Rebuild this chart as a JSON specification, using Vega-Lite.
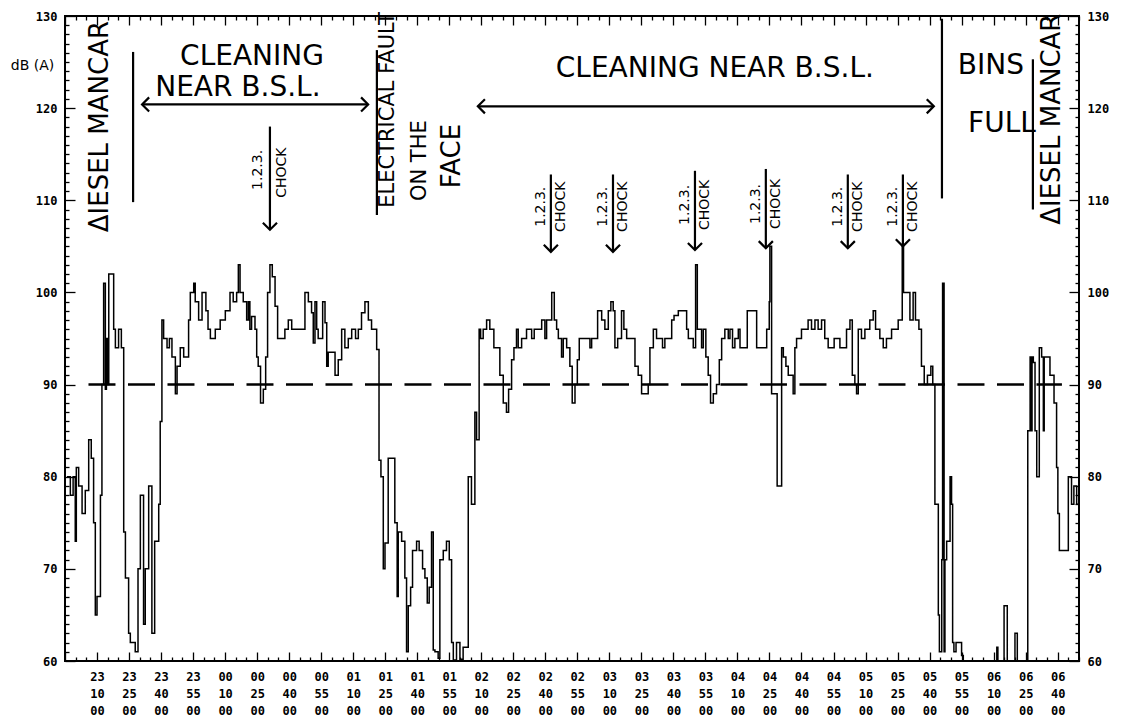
{
  "$schema": "https://vega.github.io/schema/vega-lite/v6.json",
  "width": 1014,
  "height": 645,
  "autosize": {"type": "none"},
  "padding": {"left": 65, "top": 16, "right": 52, "bottom": 61},
  "background": "white",
  "config": {
    "view": {"stroke": "black", "strokeWidth": 2},
    "axis": {"domain": false, "grid": false, "ticks": true, "tickColor": "black", "tickWidth": 1.3, "labelColor": "black", "labelFont": "DejaVu Sans Mono", "labelFontWeight": "bold", "labelFontSize": 12, "titleColor": "black"}
  },
  "datasets": {
    "series": [
      {"t":0.9,"db":80},{"t":2.5,"db":78},{"t":3.8,"db":80},{"t":4.8,"db":73},{"t":5.3,"db":81},{"t":6.4,"db":79},{"t":8.0,"db":76},{"t":9.5,"db":78.5},{"t":11.1,"db":84},{"t":12.3,"db":82},{"t":13.4,"db":75},{"t":14.2,"db":65},{"t":15.0,"db":67},{"t":16.6,"db":78},{"t":17.3,"db":90},{"t":18.1,"db":101},{"t":18.9,"db":89.5},{"t":19.4,"db":95},{"t":19.8,"db":90},{"t":20.5,"db":102},{"t":22.8,"db":96},{"t":23.6,"db":94},{"t":25.1,"db":96},{"t":26.4,"db":94},{"t":27.5,"db":74},{"t":28.3,"db":69},{"t":29.8,"db":63},{"t":30.6,"db":62},{"t":32.9,"db":61},{"t":34.2,"db":70},{"t":35.3,"db":78},{"t":36.8,"db":64},{"t":37.6,"db":70},{"t":39.2,"db":79},{"t":40.7,"db":63},{"t":42.0,"db":73},{"t":43.9,"db":77},{"t":44.6,"db":86},{"t":45.4,"db":97},{"t":46.2,"db":95},{"t":47.8,"db":94},{"t":48.9,"db":95},{"t":50.1,"db":93},{"t":51.7,"db":89},{"t":52.5,"db":92},{"t":54.0,"db":94},{"t":55.6,"db":93},{"t":57.9,"db":97},{"t":58.7,"db":100},{"t":60.3,"db":101},{"t":61.0,"db":99},{"t":62.6,"db":97},{"t":64.2,"db":100},{"t":66.0,"db":98},{"t":67.0,"db":96},{"t":68.1,"db":95},{"t":70.4,"db":96},{"t":72.7,"db":97},{"t":75.1,"db":98},
      {"t":77.3,"db":100},{"t":78.8,"db":99},{"t":80.4,"db":100},{"t":81.2,"db":103},{"t":82.0,"db":100},{"t":83.5,"db":99},{"t":85.1,"db":97},{"t":85.9,"db":99},{"t":86.6,"db":96},{"t":87.4,"db":97.4},{"t":89.0,"db":96},{"t":89.8,"db":93},{"t":90.5,"db":92},{"t":91.6,"db":88},{"t":92.9,"db":89.5},{"t":94.0,"db":93},{"t":94.9,"db":100},{"t":96.0,"db":103},{"t":97.1,"db":101.7},{"t":98.4,"db":98.5},{"t":99.6,"db":95},{"t":103.0,"db":96},{"t":104.6,"db":97},{"t":106.2,"db":96},{"t":112.4,"db":100},{"t":114.0,"db":99},{"t":115.5,"db":97.8},{"t":116.3,"db":94.5},{"t":117.1,"db":99},{"t":117.9,"db":96},{"t":118.6,"db":95},{"t":120.7,"db":99},{"t":121.8,"db":96.7},{"t":122.6,"db":92},{"t":123.3,"db":93.5},{"t":126.5,"db":91},{"t":128.0,"db":92.7},{"t":129.6,"db":96},{"t":131.1,"db":94},{"t":132.7,"db":95},{"t":134.3,"db":96},{"t":136.1,"db":95},{"t":137.4,"db":96},{"t":138.9,"db":97.8},{"t":140.5,"db":99},{"t":142.1,"db":97},{"t":143.6,"db":96},{"t":146.0,"db":93.8},{"t":147.1,"db":81.8},{"t":148.0,"db":80},{"t":149.1,"db":70},{"t":149.9,"db":72.8},{"t":151.4,"db":82},
      {"t":154.5,"db":75},{"t":155.6,"db":67},{"t":156.1,"db":74},{"t":157.7,"db":73},{"t":159.2,"db":69},{"t":160.0,"db":61},{"t":160.8,"db":66},{"t":161.9,"db":68},{"t":162.8,"db":72},{"t":164.7,"db":73},{"t":165.9,"db":72},{"t":167.5,"db":70},{"t":168.6,"db":69},{"t":169.7,"db":66.3},{"t":170.6,"db":68},{"t":171.7,"db":74},{"t":172.5,"db":61.2},{"t":173.3,"db":61},{"t":174.8,"db":60.3},{"t":175.6,"db":71},{"t":177.2,"db":72},{"t":178.7,"db":73},{"t":180.0,"db":71},{"t":181.1,"db":62},{"t":181.9,"db":60.1},{"t":183.4,"db":62},{"t":185.0,"db":60.2},{"t":186.5,"db":61.5},{"t":188.9,"db":80},{"t":190.4,"db":77},{"t":192.0,"db":87},{"t":192.8,"db":84},{"t":194.0,"db":96},{"t":194.7,"db":95},{"t":195.9,"db":96},{"t":197.5,"db":97},{"t":199.0,"db":96},{"t":200.9,"db":94},{"t":203.7,"db":91},{"t":205.3,"db":88},{"t":206.8,"db":87},{"t":207.8,"db":89.5},{"t":209.2,"db":92.7},{"t":210.3,"db":94},{"t":211.5,"db":96},{"t":212.3,"db":94},{"t":213.9,"db":95},{"t":216.2,"db":96},{"t":218.6,"db":95},{"t":219.8,"db":96},{"t":223.3,"db":97},{"t":224.8,"db":95},{"t":225.6,"db":97},{"t":228.0,"db":100},{"t":229.2,"db":97},{"t":230.3,"db":96},{"t":231.1,"db":95},{"t":232.6,"db":93},{"t":233.4,"db":95},{"t":235.0,"db":94},{"t":236.5,"db":92},{"t":237.6,"db":88},{"t":238.9,"db":90},{"t":240.0,"db":92.7},{"t":240.9,"db":95},{"t":245.9,"db":94},{"t":246.7,"db":95},{"t":249.5,"db":98},{"t":251.4,"db":97},{"t":252.9,"db":96},{"t":254.5,"db":98},{"t":255.7,"db":99},{"t":256.8,"db":98},{"t":257.6,"db":94},{"t":258.9,"db":95},{"t":260.7,"db":98},{"t":261.8,"db":96},{"t":263.1,"db":95},{"t":267.0,"db":92},{"t":268.5,"db":91},{"t":270.1,"db":89},{"t":273.2,"db":90},{"t":274.0,"db":94},{"t":275.6,"db":96},{"t":277.1,"db":95},{"t":279.9,"db":94},{"t":281.0,"db":95},{"t":284.2,"db":97},{"t":285.3,"db":97.5},{"t":287.3,"db":98},{"t":291.2,"db":96},{"t":292.0,"db":95},{"t":294.3,"db":94},{"t":295.4,"db":103},{"t":296.2,"db":96},{"t":298.2,"db":94},{"t":299.0,"db":96},{"t":300.2,"db":93},{"t":301.3,"db":91},{"t":302.4,"db":88},{"t":303.7,"db":89},{"t":305.2,"db":90},{"t":306.5,"db":92.7},{"t":307.6,"db":95},{"t":309.1,"db":96},{"t":310.7,"db":95},{"t":311.5,"db":96},{"t":312.7,"db":94},{"t":313.8,"db":95},{"t":315.4,"db":96},{"t":316.2,"db":94},{"t":319.6,"db":98},{"t":324.0,"db":94},{"t":328.7,"db":96},{"t":329.9,"db":99},{"t":330.2,"db":105},{"t":331.0,"db":89},{"t":333.6,"db":79},{"t":335.7,"db":94},{"t":336.5,"db":93},{"t":337.7,"db":92},{"t":338.8,"db":91},{"t":341.1,"db":89},{"t":341.9,"db":94},{"t":342.7,"db":95},{"t":345.0,"db":96},{"t":348.1,"db":97},{"t":349.7,"db":96},{"t":351.3,"db":97},{"t":352.8,"db":96},{"t":354.4,"db":97},{"t":355.9,"db":95},{"t":357.5,"db":94},{"t":360.3,"db":95},{"t":363.0,"db":94},{"t":366.1,"db":96},{"t":367.7,"db":97},{"t":368.8,"db":91},{"t":370.0,"db":90},{"t":370.8,"db":89},{"t":371.6,"db":96},{"t":373.1,"db":95},{"t":374.7,"db":96},{"t":377.0,"db":97},{"t":378.6,"db":98},{"t":379.7,"db":96},{"t":381.7,"db":95},{"t":383.3,"db":94},{"t":384.8,"db":95},{"t":387.2,"db":96},{"t":390.3,"db":97},{"t":392.2,"db":105},{"t":392.8,"db":100},{"t":395.8,"db":97},{"t":397.3,"db":100},{"t":398.4,"db":97},{"t":400.0,"db":96},{"t":401.2,"db":92},{"t":402.5,"db":90},{"t":404.0,"db":91},{"t":405.6,"db":92},{"t":406.5,"db":90},{"t":407.5,"db":77},{"t":409.1,"db":65},{"t":409.6,"db":61},{"t":410.7,"db":71},{"t":411.1,"db":101},{"t":411.8,"db":61},{"t":412.2,"db":71},{"t":413.0,"db":73},{"t":414.6,"db":80},{"t":415.3,"db":77},{"t":415.8,"db":62},{"t":416.4,"db":61},{"t":417.4,"db":62},{"t":420.0,"db":60.6},{"t":420.8,"db":60},{"t":436.5,"db":61.5},{"t":437.0,"db":60},{"t":439.9,"db":66},{"t":441.4,"db":60},{"t":445.0,"db":63},{"t":446.1,"db":60},{"t":451.0,"db":85},{"t":452.1,"db":93},{"t":452.5,"db":85},{"t":453.0,"db":93},{"t":453.6,"db":92.4},{"t":454.4,"db":85},{"t":455.2,"db":80},{"t":456.4,"db":94},{"t":457.5,"db":93},{"t":458.3,"db":85},{"t":458.7,"db":93},{"t":459.5,"db":93},{"t":461.4,"db":91},{"t":463.3,"db":88},{"t":464.5,"db":81},{"t":465.1,"db":76},{"t":465.8,"db":72},{"t":467.6,"db":72},{"t":470.0,"db":80},{"t":471.5,"db":77},{"t":472.6,"db":79},{"t":473.9,"db":77},{"t":475.0,"db":77}
    ],
    "limit": [{"t": 11, "t2": 467, "db": 90}],
    "notesH": [
      {"label": "CLEANING", "t": 87.6, "db": 125.6},
      {"label": "NEAR B.S.L.", "t": 81.0, "db": 122.2},
      {"label": "CLEANING NEAR B.S.L.", "t": 304.4, "db": 124.2},
      {"label": "BINS", "t": 433.7, "db": 124.6},
      {"label": "FULL", "t": 438.9, "db": 118.3}
    ],
    "notesV": [
      {"label": "ΔIESEL MANCAR", "t": 16.4, "db": 118.0},
      {"label": "FACE", "t": 181.3, "db": 114.8},
      {"label": "ΔIESEL MANCAR", "t": 462.3, "db": 118.8}
    ],
    "notesV2": [
      {"label": "ELECTRICAL FAULT", "t": 151.5, "db": 119.8},
      {"label": "ON THE", "t": 166.3, "db": 114.3}
    ],
    "chock": [
      {"label": "1.2.3.", "t": 90.4, "db": 113.3}, {"label": "CHOCK", "t": 101.6, "db": 113.0},
      {"label": "1.2.3.", "t": 222.9, "db": 109.3}, {"label": "CHOCK", "t": 232.3, "db": 109.3},
      {"label": "1.2.3.", "t": 252.0, "db": 109.3}, {"label": "CHOCK", "t": 261.4, "db": 109.3},
      {"label": "1.2.3.", "t": 290.4, "db": 109.5}, {"label": "CHOCK", "t": 299.8, "db": 109.5},
      {"label": "1.2.3.", "t": 323.6, "db": 109.6}, {"label": "CHOCK", "t": 333.0, "db": 109.6},
      {"label": "1.2.3.", "t": 362.0, "db": 109.3}, {"label": "CHOCK", "t": 371.4, "db": 109.3},
      {"label": "1.2.3.", "t": 387.8, "db": 109.3}, {"label": "CHOCK", "t": 397.2, "db": 109.3}
    ],
    "strokes": [
      {"t": 31.9, "t2": 31.9, "db": 126.1, "db2": 109.8},
      {"t": 146.1, "t2": 146.1, "db": 126.3, "db2": 108.4},
      {"t": 410.8, "t2": 410.8, "db": 129.7, "db2": 110.2},
      {"t": 453.4, "t2": 453.4, "db": 125.3, "db2": 109.0},
      {"t": 36.1, "t2": 142.0, "db": 120.4, "db2": 120.4},
      {"t": 193.4, "t2": 407.0, "db": 120.2, "db2": 120.2},
      {"t": 96.0, "t2": 96.0, "db": 118.0, "db2": 106.8},
      {"t": 227.6, "t2": 227.6, "db": 112.8, "db2": 104.4},
      {"t": 256.7, "t2": 256.7, "db": 112.8, "db2": 104.4},
      {"t": 295.1, "t2": 295.1, "db": 113.2, "db2": 104.6},
      {"t": 328.3, "t2": 328.3, "db": 113.4, "db2": 104.8},
      {"t": 366.7, "t2": 366.7, "db": 112.8, "db2": 104.8},
      {"t": 392.5, "t2": 392.5, "db": 112.8, "db2": 105.0}
    ],
    "heads": [
      {"t": 36.1, "db": 120.4, "dir": "left"},
      {"t": 142.0, "db": 120.4, "dir": "right"},
      {"t": 193.4, "db": 120.2, "dir": "left"},
      {"t": 407.0, "db": 120.2, "dir": "right"},
      {"t": 96.0, "db": 106.8, "dir": "down"},
      {"t": 227.6, "db": 104.4, "dir": "down"},
      {"t": 256.7, "db": 104.4, "dir": "down"},
      {"t": 295.1, "db": 104.6, "dir": "down"},
      {"t": 328.3, "db": 104.8, "dir": "down"},
      {"t": 366.7, "db": 104.8, "dir": "down"},
      {"t": 392.5, "db": 105.0, "dir": "down"}
    ]
  },
  "resolve": {"axis": {"x": "independent", "y": "independent"}},
  "layer": [
    {
      "data": {"name": "series"},
      "mark": {"type": "line", "interpolate": "step-after", "color": "black", "strokeWidth": 1.5, "clip": true},
      "encoding": {
        "x": {"field": "t", "type": "quantitative", "scale": {"domain": [0, 475], "nice": false, "zero": false},
          "axis": {"orient": "bottom", "title": null, "values": [0,5,10,15,20,25,30,35,40,45,50,55,60,65,70,75,80,85,90,95,100,105,110,115,120,125,130,135,140,145,150,155,160,165,170,175,180,185,190,195,200,205,210,215,220,225,230,235,240,245,250,255,260,265,270,275,280,285,290,295,300,305,310,315,320,325,330,335,340,345,350,355,360,365,370,375,380,385,390,395,400,405,410,415,420,425,430,435,440,445,450,455,460,465,470,475],
            "labelExpr": "datum.value % 15 === 0 && datum.value > 0 ? [pad(toString(floor((1375 + datum.value) / 60) % 24), 2, '0', 'left'), pad(toString((1375 + datum.value) % 60), 2, '0', 'left'), '00'] : ''",
            "labelOverlap": false, "labelFlush": false, "labelPadding": 19, "labelBaseline": "top", "labelLineHeight": 17,
            "tickSize": {"condition": {"test": "datum.value % 15 === 0", "value": -9}, "value": -4}}},
        "y": {"field": "db", "type": "quantitative", "scale": {"domain": [60, 130], "nice": false, "zero": false},
          "axis": {"orient": "left", "values": [60,61,62,63,64,65,66,67,68,69,70,71,72,73,74,75,76,77,78,79,80,81,82,83,84,85,86,87,88,89,90,91,92,93,94,95,96,97,98,99,100,101,102,103,104,105,106,107,108,109,110,111,112,113,114,115,116,117,118,119,120,121,122,123,124,125,126,127,128,129,130],
            "labelExpr": "datum.value % 10 === 0 ? datum.label : ''", "labelOverlap": false, "labelPadding": 18,
            "tickSize": {"condition": {"test": "datum.value % 10 === 0", "value": -10}, "value": -4},
            "title": "dB (A)", "titleAngle": 0, "titleX": -33, "titleY": 49, "titleAlign": "center", "titleBaseline": "middle",
            "titleFont": "DejaVu Sans", "titleFontSize": 14, "titleFontWeight": "normal"}}
      }
    },
    {
      "data": {"name": "limit"},
      "mark": {"type": "rule", "color": "black", "strokeWidth": 2.5, "strokeDash": [27, 12.5]},
      "encoding": {
        "x": {"field": "t", "type": "quantitative",
          "axis": {"orient": "top", "title": null, "labels": false, "values": [0,5,10,15,20,25,30,35,40,45,50,55,60,65,70,75,80,85,90,95,100,105,110,115,120,125,130,135,140,145,150,155,160,165,170,175,180,185,190,195,200,205,210,215,220,225,230,235,240,245,250,255,260,265,270,275,280,285,290,295,300,305,310,315,320,325,330,335,340,345,350,355,360,365,370,375,380,385,390,395,400,405,410,415,420,425,430,435,440,445,450,455,460,465,470,475],
            "tickSize": {"condition": {"test": "datum.value % 15 === 0", "value": -9}, "value": -4}}},
        "x2": {"field": "t2"},
        "y": {"field": "db", "type": "quantitative",
          "axis": {"orient": "right", "title": null, "values": [60,61,62,63,64,65,66,67,68,69,70,71,72,73,74,75,76,77,78,79,80,81,82,83,84,85,86,87,88,89,90,91,92,93,94,95,96,97,98,99,100,101,102,103,104,105,106,107,108,109,110,111,112,113,114,115,116,117,118,119,120,121,122,123,124,125,126,127,128,129,130],
            "labelExpr": "datum.value % 10 === 0 ? datum.label : ''", "labelOverlap": false, "labelPadding": 18,
            "tickSize": {"condition": {"test": "datum.value % 10 === 0", "value": -10}, "value": -4}}}
      }
    },
    {
      "data": {"name": "strokes"},
      "mark": {"type": "rule", "color": "black", "strokeWidth": 2.2},
      "encoding": {
        "x": {"field": "t", "type": "quantitative", "axis": null},
        "x2": {"field": "t2"},
        "y": {"field": "db", "type": "quantitative", "axis": null},
        "y2": {"field": "db2"}
      }
    },
    {
      "data": {"name": "heads"},
      "mark": {"type": "point", "filled": false, "color": "black", "strokeWidth": 2.2, "size": 200, "opacity": 1},
      "encoding": {
        "x": {"field": "t", "type": "quantitative", "axis": null},
        "y": {"field": "db", "type": "quantitative", "axis": null},
        "shape": {"field": "dir", "type": "nominal", "legend": null,
          "scale": {"domain": ["down", "left", "right"], "range": ["M-1,-1L0,0L1,-1", "M1,-1L0,0L1,1", "M-1,-1L0,0L-1,1"]}}
      }
    },
    {
      "data": {"name": "notesH"},
      "mark": {"type": "text", "font": "DejaVu Sans", "fontSize": 28, "align": "center", "baseline": "middle", "color": "black"},
      "encoding": {
        "x": {"field": "t", "type": "quantitative", "axis": null},
        "y": {"field": "db", "type": "quantitative", "axis": null},
        "text": {"field": "label"}
      }
    },
    {
      "data": {"name": "notesV"},
      "mark": {"type": "text", "font": "DejaVu Sans", "fontSize": 26, "angle": 270, "align": "center", "baseline": "middle", "color": "black"},
      "encoding": {
        "x": {"field": "t", "type": "quantitative", "axis": null},
        "y": {"field": "db", "type": "quantitative", "axis": null},
        "text": {"field": "label"}
      }
    },
    {
      "data": {"name": "notesV2"},
      "mark": {"type": "text", "font": "DejaVu Sans", "fontSize": 21, "angle": 270, "align": "center", "baseline": "middle", "color": "black"},
      "encoding": {
        "x": {"field": "t", "type": "quantitative", "axis": null},
        "y": {"field": "db", "type": "quantitative", "axis": null},
        "text": {"field": "label"}
      }
    },
    {
      "data": {"name": "chock"},
      "mark": {"type": "text", "font": "DejaVu Sans", "fontSize": 14, "angle": 270, "align": "center", "baseline": "middle", "color": "black"},
      "encoding": {
        "x": {"field": "t", "type": "quantitative", "axis": null},
        "y": {"field": "db", "type": "quantitative", "axis": null},
        "text": {"field": "label"}
      }
    }
  ]
}
